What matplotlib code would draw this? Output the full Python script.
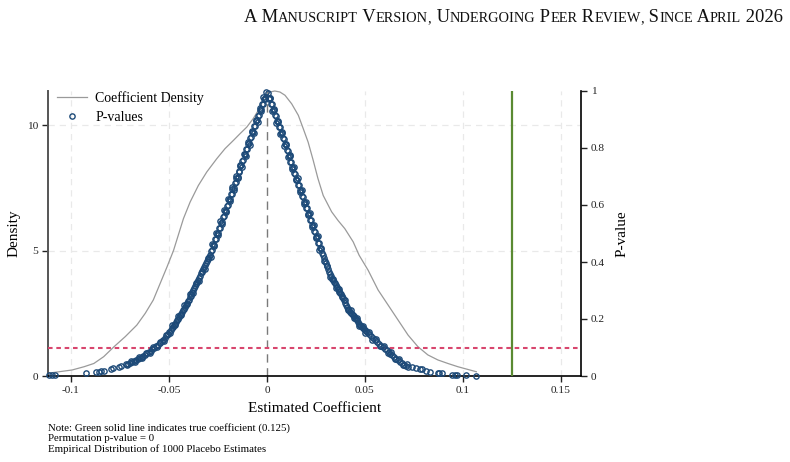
import matplotlib
matplotlib.use("Agg")
import matplotlib.pyplot as plt
from matplotlib.offsetbox import TextArea, HPacker, AnnotationBbox

plt.rcParams['font.family'] = ['Liberation Serif', 'DejaVu Serif']
plt.rcParams['axes.unicode_minus'] = False

# ---------------- data ----------------
dens_x = [-0.1117, -0.0994, -0.0933, -0.0883, -0.0833, -0.078, -0.0723, -0.0664, -0.0621,
          -0.058, -0.0545, -0.051, -0.0477, -0.0426, -0.0392, -0.035, -0.0307, -0.0256,
          -0.0214, -0.0171, -0.0137, -0.0103, -0.007, -0.0044, -0.0027, -0.001, 0.0015,
          0.004, 0.0066, 0.0092, 0.0126, 0.016, 0.0185, 0.021, 0.0236, 0.026, 0.0287,
          0.033, 0.0363, 0.0397, 0.044, 0.047, 0.0516, 0.0567, 0.0618, 0.0669, 0.072,
          0.077, 0.0821, 0.0872, 0.0923, 0.0974, 0.1068]
dens_y = [0.11, 0.24, 0.37, 0.5, 0.77, 1.17, 1.57, 2.03, 2.5,
          3.03, 3.69, 4.35, 5.0, 6.28, 6.94, 7.6, 8.14, 8.67,
          9.07, 9.4, 9.67, 9.93, 10.27, 10.6, 10.86, 11.2, 11.33,
          11.37, 11.33, 11.2, 10.86, 10.4, 9.87, 9.33, 8.6, 7.88, 7.2,
          6.55, 6.2, 5.88, 5.35, 4.82, 4.22, 3.43, 2.83, 2.23, 1.63,
          1.17, 0.84, 0.64, 0.5, 0.37, 0.17]

pv_left_x = [-0.0004, -0.0010, -0.0016, -0.0020, -0.0026, -0.0030, -0.0035, -0.0041, -0.0045,
             -0.0050, -0.0056, -0.0060, -0.0064, -0.0070, -0.0076, -0.0080, -0.0085, -0.0091,
             -0.0095, -0.0100, -0.0106, -0.0110, -0.0114, -0.0120, -0.0126, -0.0130, -0.0135,
             -0.0141, -0.0145, -0.0150, -0.0156, -0.0160, -0.0164, -0.0170, -0.0176, -0.0180,
             -0.0185, -0.0191, -0.0195, -0.0200, -0.0206, -0.0210, -0.0214, -0.0220, -0.0226,
             -0.0230, -0.0235, -0.0241, -0.0245, -0.0250, -0.0256, -0.0260, -0.0264, -0.0270,
             -0.0276, -0.0280, -0.0285, -0.0290,
             -0.0295, -0.0300, -0.0305, -0.0310, -0.0315, -0.0320, -0.0325, -0.0330, -0.0335,
             -0.0340, -0.0345, -0.0350, -0.0355, -0.0360, -0.0365, -0.0370, -0.0375, -0.0380,
             -0.0385, -0.0390, -0.0395, -0.0400, -0.0405, -0.0410, -0.0415, -0.0420, -0.0425,
             -0.0430, -0.0435, -0.0440, -0.0445, -0.0450, -0.0455, -0.0460, -0.0465, -0.0470,
             -0.0475, -0.0480, -0.0485, -0.0490, -0.0500, -0.0505, -0.0510, -0.0520, -0.0530,
             -0.0535, -0.0545, -0.0555, -0.0565, -0.0575, -0.0585, -0.0590, -0.0600, -0.0610,
             -0.0620, -0.0630, -0.0640, -0.0650, -0.0660, -0.0670, -0.0680, -0.0690, -0.0700,
             -0.0710, -0.0720, -0.0745, -0.0755, -0.0785, -0.0795, -0.0830, -0.0845, -0.0855,
             -0.0870, -0.0925, -0.1080, -0.1095, -0.1110]
pv_left_y = [0.996, 0.976, 0.972, 0.956, 0.953, 0.937, 0.934, 0.916, 0.914,
             0.897, 0.894, 0.877, 0.876, 0.857, 0.855, 0.838, 0.836, 0.818,
             0.815, 0.798, 0.795, 0.778, 0.776, 0.758, 0.756, 0.739, 0.736,
             0.719, 0.716, 0.699, 0.696, 0.679, 0.677, 0.659, 0.657, 0.640,
             0.637, 0.620, 0.617, 0.600, 0.597, 0.580, 0.578, 0.560, 0.558,
             0.541, 0.538, 0.521, 0.518, 0.501, 0.498, 0.481, 0.479, 0.461,
             0.459, 0.442, 0.439, 0.426,
             0.418, 0.410, 0.402, 0.396, 0.388, 0.382, 0.374, 0.366, 0.360,
             0.352, 0.344, 0.337, 0.330, 0.322, 0.316, 0.309, 0.302, 0.296,
             0.289, 0.282, 0.276, 0.268, 0.262, 0.256, 0.249, 0.243, 0.236,
             0.231, 0.225, 0.219, 0.213, 0.207, 0.200, 0.195, 0.190, 0.184,
             0.178, 0.173, 0.168, 0.163, 0.153, 0.148, 0.143, 0.135, 0.127,
             0.122, 0.115, 0.110, 0.104, 0.099, 0.094, 0.089, 0.084, 0.079,
             0.074, 0.070, 0.066, 0.062, 0.058, 0.055, 0.052, 0.049, 0.046,
             0.043, 0.041, 0.034, 0.032, 0.027, 0.026, 0.017, 0.016, 0.015,
             0.014, 0.009, 0.004, 0.003, 0.003]
pv_left_x2 = [-0.0008, -0.0018, -0.0028, -0.0038, -0.0048, -0.0058, -0.0068, -0.0078, -0.0088,
              -0.0098, -0.0108, -0.0118, -0.0128, -0.0138, -0.0148, -0.0158, -0.0168, -0.0178,
              -0.0188, -0.0198, -0.0208, -0.0218, -0.0228, -0.0238, -0.0248, -0.0258, -0.0268,
              -0.0278, -0.0288, -0.0302, -0.0318, -0.0333, -0.0348, -0.0362, -0.0378, -0.0392,
              -0.0408, -0.0422, -0.0438, -0.0452, -0.0468, -0.0482, -0.0497, -0.0515, -0.0527,
              -0.0548, -0.0560, -0.0580, -0.0596, -0.0615, -0.0635, -0.0655, -0.0675, -0.0695,
              -0.0715]
pv_left_y2 = [0.972, 0.978, 0.931, 0.939, 0.891, 0.899, 0.851, 0.860, 0.812,
              0.820, 0.772, 0.780, 0.733, 0.741, 0.693, 0.701, 0.653, 0.662,
              0.614, 0.622, 0.574, 0.582, 0.535, 0.543, 0.495, 0.503, 0.455,
              0.464, 0.416, 0.415, 0.376, 0.370, 0.333, 0.327, 0.291, 0.287,
              0.252, 0.248, 0.214, 0.211, 0.180, 0.178, 0.150, 0.145, 0.124,
              0.119, 0.103, 0.101, 0.082, 0.082, 0.064, 0.065, 0.050, 0.051,
              0.039]

pv_right_x = [0.0005, 0.0010, 0.0015, 0.0020, 0.0025, 0.0030, 0.0035, 0.0040, 0.0045,
              0.0050, 0.0055, 0.0060, 0.0065, 0.0070, 0.0075, 0.0080, 0.0085, 0.0090,
              0.0095, 0.0100, 0.0105, 0.0110, 0.0115, 0.0120, 0.0125, 0.0130, 0.0135,
              0.0140, 0.0145, 0.0150, 0.0155, 0.0160, 0.0165, 0.0170, 0.0175, 0.0180,
              0.0185, 0.0190, 0.0195, 0.0200, 0.0205, 0.0210, 0.0215, 0.0220, 0.0225,
              0.0230, 0.0235, 0.0240, 0.0245, 0.0250, 0.0255, 0.0260, 0.0265, 0.0270,
              0.0275, 0.0280,
              0.0285, 0.0290, 0.0295, 0.0300, 0.0305, 0.0310, 0.0315, 0.0320, 0.0325,
              0.0330, 0.0335, 0.0340, 0.0345, 0.0350, 0.0355, 0.0360, 0.0365, 0.0370,
              0.0375, 0.0380, 0.0385, 0.0390, 0.0395, 0.0400, 0.0405, 0.0410, 0.0415,
              0.0420, 0.0425, 0.0430, 0.0435, 0.0440, 0.0445, 0.0450, 0.0455, 0.0460,
              0.0465, 0.0470, 0.0475, 0.0480, 0.0485, 0.0490, 0.0495, 0.0500, 0.0505,
              0.0510, 0.0520, 0.0530, 0.0540, 0.0550, 0.0560, 0.0570, 0.0580, 0.0590,
              0.0600, 0.0610, 0.0620, 0.0630, 0.0640, 0.0650, 0.0660, 0.0670, 0.0680,
              0.0690, 0.0700, 0.0710, 0.0720, 0.0740, 0.0760, 0.0780, 0.0790, 0.0810,
              0.0830, 0.0870, 0.0880, 0.0895, 0.0945, 0.0960, 0.0970, 0.1015, 0.1068]
pv_right_y = [0.994, 0.976, 0.974, 0.955, 0.953, 0.935, 0.933, 0.915, 0.913,
              0.895, 0.892, 0.874, 0.872, 0.854, 0.852, 0.834, 0.831, 0.813,
              0.811, 0.793, 0.791, 0.773, 0.771, 0.752, 0.750, 0.732, 0.730,
              0.712, 0.710, 0.692, 0.689, 0.671, 0.669, 0.651, 0.649, 0.631,
              0.628, 0.610, 0.608, 0.590, 0.588, 0.570, 0.568, 0.549, 0.547,
              0.529, 0.527, 0.509, 0.507, 0.489, 0.486, 0.468, 0.466, 0.448,
              0.445, 0.431,
              0.423, 0.415, 0.405, 0.396, 0.385, 0.374, 0.366, 0.358, 0.350,
              0.342, 0.336, 0.330, 0.325, 0.319, 0.312, 0.306, 0.300, 0.296,
              0.291, 0.287, 0.280, 0.272, 0.265, 0.257, 0.249, 0.242, 0.236,
              0.230, 0.226, 0.222, 0.218, 0.213, 0.209, 0.205, 0.200, 0.195,
              0.190, 0.184, 0.179, 0.175, 0.171, 0.167, 0.164, 0.161, 0.157,
              0.153, 0.146, 0.139, 0.132, 0.126, 0.119, 0.113, 0.106, 0.101,
              0.096, 0.091, 0.085, 0.078, 0.072, 0.066, 0.061, 0.056, 0.050,
              0.045, 0.040, 0.036, 0.033, 0.031, 0.029, 0.026, 0.024, 0.019,
              0.015, 0.010, 0.009, 0.009, 0.005, 0.004, 0.004, 0.003, 0.001]
pv_right_x2 = [0.0008, 0.0018, 0.0028, 0.0038, 0.0048, 0.0058, 0.0068, 0.0078, 0.0088,
               0.0098, 0.0108, 0.0118, 0.0128, 0.0138, 0.0148, 0.0158, 0.0168, 0.0178,
               0.0188, 0.0198, 0.0208, 0.0218, 0.0228, 0.0238, 0.0248, 0.0258, 0.0268,
               0.0278, 0.0292, 0.0308, 0.0322, 0.0338, 0.0352, 0.0368, 0.0382, 0.0398,
               0.0412, 0.0428, 0.0442, 0.0458, 0.0472, 0.0488, 0.0502, 0.0518, 0.0535,
               0.0555, 0.0575, 0.0595, 0.0615, 0.0635, 0.0655, 0.0675, 0.0695, 0.0715]
pv_right_y2 = [0.972, 0.977, 0.929, 0.937, 0.889, 0.896, 0.848, 0.856, 0.807,
               0.815, 0.767, 0.774, 0.726, 0.734, 0.686, 0.693, 0.645, 0.653,
               0.604, 0.612, 0.564, 0.571, 0.523, 0.531, 0.483, 0.490, 0.442,
               0.450, 0.403, 0.387, 0.348, 0.340, 0.309, 0.305, 0.276, 0.268,
               0.231, 0.232, 0.203, 0.205, 0.174, 0.177, 0.151, 0.155, 0.128,
               0.130, 0.104, 0.106, 0.082, 0.083, 0.060, 0.061, 0.039, 0.042]

true_coef = 0.125
p_threshold = 0.1
x_ticks = [-0.1, -0.05, 0, 0.05, 0.1, 0.15]
x_ticklabels = ['-0.1', '-0.05', '0', '0.05', '0.1', '0.15']
y_ticks = [0, 5, 10]
y_ticklabels = ['0', '5', '10']
p_ticks = [0, 0.2, 0.4, 0.6, 0.8, 1.0]
p_ticklabels = ['0', '0.2', '0.4', '0.6', '0.8', '1']
x_limits = (-0.1117, 0.1602)
dens_limits = (0, 11.37)
p_limits = (0, 1)

note_lines = ['Note: Green solid line indicates true coefficient (0.125)',
              'Permutation p-value = 0',
              'Empirical Distribution of 1000 Placebo Estimates']
header_parts = [('A', 'big'), (' M', 'big'), ('ANUSCRIPT', 'small'), (' V', 'big'), ('ERSION', 'small'),
                (',', 'small'), (' U', 'big'), ('NDERGOING', 'small'), (' P', 'big'), ('EER', 'small'),
                (' R', 'big'), ('EVIEW', 'small'), (',', 'small'), (' S', 'big'), ('INCE', 'small'),
                (' A', 'big'), ('PRIL', 'small'), (' 2026', 'big')]

# ---------------- figure ----------------
W, H = 790, 462
fig = plt.figure(figsize=(W / 100, H / 100), dpi=100)
ax = fig.add_axes([48 / W, 86 / H, 533 / W, 285 / H])
ax2 = ax.twinx()

blue = '#1d4a78'
gridc = '#e9e9e9'

ax.set_xlim(*x_limits)
ax.set_ylim(*dens_limits)
ax2.set_ylim(*p_limits)

for xt in x_ticks:
    if xt != 0:
        ax.axvline(xt, color=gridc, lw=0.9, ls=(0, (5, 4)), zorder=0)
for yt in y_ticks[1:]:
    ax.axhline(yt, color=gridc, lw=0.9, ls=(0, (5, 4)), zorder=0)

dens_line, = ax.plot(dens_x, dens_y, color='#9a9a9a', lw=0.9, zorder=2, clip_on=False)
ax.axvline(0, color='#7a7a7a', lw=1.0, ls=(0, (6, 4)), zorder=1)

ax2.axhline(p_threshold, color='#d8466e', lw=1.5, ls=(0, (2.2, 1.8)), zorder=2)
ax2.axvline(true_coef, color='#5a8a32', lw=1.6, zorder=2)
mk = dict(ls='none', marker='o', ms=3.8, mfc='none', mec=blue, mew=1.0, zorder=3, clip_on=False)
ax2.plot(pv_left_x, pv_left_y, **mk)
ax2.plot(pv_left_x2, pv_left_y2, **mk)
ax2.plot(pv_right_x2, pv_right_y2, **mk)
pv_line, = ax2.plot(pv_right_x, pv_right_y, **mk)

ax.set_xticks(x_ticks)
ax.set_xticklabels(x_ticklabels)
ax.set_yticks(y_ticks)
ax.set_yticklabels(y_ticklabels)
ax2.set_yticks(p_ticks)
ax2.set_yticklabels(p_ticklabels)

for a in (ax, ax2):
    a.tick_params(direction='out', length=4, width=1, labelsize=8.2, colors='#222222', pad=3)
    a.spines['top'].set_visible(False)
ax.spines['left'].set_color('#555555')
ax.spines['left'].set_linewidth(1.4)
ax.spines['bottom'].set_color('black')
ax.spines['bottom'].set_linewidth(1.2)
ax.spines['right'].set_visible(False)
ax2.spines['left'].set_visible(False)
ax2.spines['bottom'].set_visible(False)
ax2.spines['right'].set_color('black')
ax2.spines['right'].set_linewidth(1.2)

ax.set_xlabel('Estimated Coefficient', fontsize=11)
ax.xaxis.set_label_coords(0.5, (376 - 408) / 285)
ax.xaxis.label.set_va('center')
ax.set_ylabel('Density', fontsize=11)
ax.yaxis.set_label_coords((14 - 48) / 533, 0.5)
ax.yaxis.label.set_va('center')
ax2.set_ylabel('P-value', fontsize=11)
ax2.yaxis.set_label_coords((622 - 48) / 533, 0.5)
ax2.yaxis.label.set_va('center')

leg = ax2.legend([dens_line, pv_line], ['Coefficient Density', 'P-values'],
                 loc='upper left', bbox_to_anchor=(51 / W, 1 - 86 / H),
                 bbox_transform=fig.transFigure, frameon=False, fontsize=10,
                 handlelength=2.2, handletextpad=0.6, borderaxespad=0,
                 labelspacing=0.4, numpoints=1)

for i, line in enumerate(note_lines):
    fig.text(48 / W, 1 - (428 + i * 10.5) / H, line, fontsize=7.8, va='center', ha='left')

areas = []
for txt, kind in header_parts:
    size = 13.4 if kind == 'big' else 10.4
    areas.append(TextArea(txt, textprops=dict(fontsize=size, color='#111111',
                                              family=['Liberation Serif', 'DejaVu Serif'])))
pack = HPacker(children=areas, pad=0, sep=0, align='baseline')
ab = AnnotationBbox(pack, (783 / W, 1 - 26 / H), xycoords='figure fraction',
                    box_alignment=(1, 0), frameon=False, pad=0)
fig.add_artist(ab)

fig.savefig('out.png', dpi=100)
